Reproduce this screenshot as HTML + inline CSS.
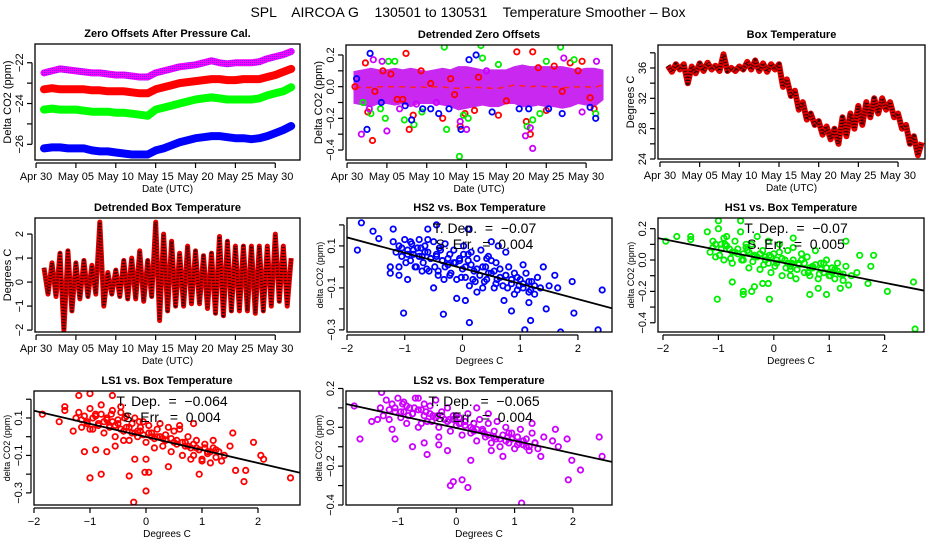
<!DOCTYPE html>
<html><head><meta charset="utf-8">
<style>
html,body{margin:0;padding:0;background:#fff;}
svg{display:block;font-family:"Liberation Sans",sans-serif;}
</style></head>
<body>
<svg id="chart" width="936" height="540" viewBox="0 0 936 540" xmlns="http://www.w3.org/2000/svg">
<defs>
<pattern id="pm" width="2" height="2" patternUnits="userSpaceOnUse"><rect width="2" height="2" fill="#ff00ff"/><rect width="1" height="1" fill="#6a20ff"/></pattern>
</defs>
<text x="468" y="17" text-anchor="middle" font-size="14" style="white-space:pre">SPL    AIRCOA G    130501 to 130531    Temperature Smoother – Box</text>
<g id="root"></g>
</svg>
<script>
// ---------- data ----------
const zoDays = [1,2,3,4,5,6,7,8,9,10,11,12,13,14,15,16,17,18,19,20,21,22,23,24,25,26,27,28,29,30,31,32];
const zoPurple = [-22.5,-22.4,-22.3,-22.35,-22.4,-22.45,-22.5,-22.5,-22.55,-22.6,-22.6,-22.65,-22.7,-22.7,-22.5,-22.4,-22.3,-22.2,-22.15,-22.1,-22.0,-21.9,-22.0,-22.05,-22.0,-22.0,-22.0,-21.95,-21.8,-21.7,-21.6,-21.45];
const zoRed = [-23.3,-23.25,-23.3,-23.3,-23.3,-23.3,-23.35,-23.35,-23.4,-23.4,-23.4,-23.45,-23.5,-23.5,-23.3,-23.2,-23.1,-23.0,-22.95,-22.9,-22.85,-22.8,-22.8,-22.85,-22.85,-22.8,-22.8,-22.8,-22.7,-22.6,-22.45,-22.3];
const zoGreen = [-24.3,-24.25,-24.3,-24.3,-24.3,-24.35,-24.4,-24.4,-24.4,-24.45,-24.45,-24.5,-24.55,-24.6,-24.3,-24.2,-24.1,-24.0,-23.9,-23.8,-23.75,-23.7,-23.75,-23.8,-23.8,-23.8,-23.8,-23.75,-23.6,-23.5,-23.4,-23.2];
const zoBlue = [-26.2,-26.15,-26.15,-26.2,-26.2,-26.2,-26.3,-26.35,-26.35,-26.4,-26.45,-26.5,-26.5,-26.5,-26.3,-26.2,-26.05,-25.9,-25.8,-25.7,-25.65,-25.6,-25.6,-25.65,-25.7,-25.7,-25.75,-25.7,-25.6,-25.45,-25.3,-25.1];

const dzBandHi = [0.09,0.1,0.11,0.1,0.1,0.11,0.1,0.11,0.1,0.09,0.1,0.11,0.1,0.12,0.12,0.11,0.1,0.1,0.1,0.1,0.12,0.13,0.12,0.12,0.12,0.12,0.12,0.11,0.1,0.11,0.11,0.1];
const dzBandLo = [-0.1,-0.11,-0.12,-0.1,-0.1,-0.11,-0.1,-0.12,-0.1,-0.1,-0.1,-0.11,-0.12,-0.14,-0.13,-0.12,-0.11,-0.12,-0.12,-0.1,-0.1,-0.12,-0.12,-0.11,-0.12,-0.12,-0.13,-0.12,-0.1,-0.11,-0.12,-0.08];
const dzRedT = [1,2.6,3.2,6.3,7.4,7.8,8.3,12,13,14.2,14.8,16,19,21.3,22.5,23,23.3,24,25,26,28,29.5,31,2.3,4.5,9.3,3.5,5.5,7,10.5,13.5,16.5,20,27,29,30.5];
const dzRedV = [0.0,-0.16,-0.34,-0.08,0.21,-0.27,-0.18,-0.2,0.05,-0.25,-0.17,-0.15,-0.18,0.22,-0.22,-0.3,0.22,0.12,-0.15,0.13,0.15,0.16,-0.14,0.15,0.1,0.1,-0.03,0.08,-0.08,0.02,-0.05,0.06,-0.09,-0.03,0.1,-0.07];
const dzGreenT = [2,3,4.2,4.8,6,7.2,8.4,9.4,12.2,12.5,14.1,14.6,15.2,16.8,17,19,22.6,23.3,24.2,25,26.8,28.5,31.2,5.2];
const dzGreenV = [-0.1,-0.17,-0.14,-0.2,0.16,-0.21,-0.24,-0.16,0.25,-0.27,-0.44,-0.18,-0.2,0.26,0.18,0.14,-0.25,-0.21,-0.17,0.16,0.25,0.17,-0.17,0.16];
const dzBlueT = [1.2,2.5,2.9,7.3,8.1,9.5,10.5,11.5,12.8,14.3,15.3,16.2,18.2,21.6,22.8,25.3,27,30.5,31.2,4.3];
const dzBlueV = [0.05,-0.27,0.21,-0.12,-0.21,-0.14,-0.14,-0.17,-0.14,-0.27,0.17,0.2,-0.16,-0.14,-0.14,-0.14,-0.17,-0.13,-0.2,-0.1];
const dzPurpleT = [1.8,2.8,3.3,4.4,5,6.6,8.7,11.2,14.2,15,17.5,22.4,23,23.3,27.2,29.5,31.3];
const dzPurpleV = [-0.3,-0.14,0.17,0.16,-0.28,-0.14,-0.11,-0.1,-0.22,-0.27,0.1,-0.31,-0.26,-0.39,0.18,-0.16,0.16];

const btT0 = 1;
const btVals = [36.3,35.5,36.5,35.8,36.5,34.0,36.2,35.3,36.6,35.6,36.7,35.8,36.3,35.6,37.8,35.6,36.0,35.6,36.2,35.8,36.8,35.8,37.0,35.6,36.6,35.5,36.5,35.8,36.5,33.5,34.5,32.3,33.0,30.5,31.5,29.2,30.0,28.5,29.0,27.2,28.3,26.6,28.0,26.0,29.5,27.0,30.0,28.0,31.0,28.5,31.5,29.5,32.0,30.0,32.0,30.5,31.5,29.5,30.0,28.0,28.5,26.0,27.0,24.5,26.2];
const dbVals = [0.6,-0.5,0.8,-0.6,1.2,-2.0,1.3,-1.2,0.8,-0.7,0.9,-0.6,0.7,-0.5,2.5,-1.0,0.4,-0.5,0.5,-0.6,0.9,-0.7,1.0,-0.7,1.3,-0.8,0.9,-0.6,2.5,-1.6,2.0,-1.2,1.7,-1.0,1.2,-1.0,1.5,-0.9,1.3,-0.9,1.1,-1.1,1.2,-1.3,1.9,-1.4,1.7,-1.2,1.5,-1.2,1.5,-1.2,1.5,-1.3,1.5,-1.2,1.5,-1.0,2.0,-0.8,1.5,-1.0,1.0];

const hs2X = [-1.75,-1.55,-1.45,-1.82,-1.25,-1.25,-1.1,-1.02,-0.95,-0.5,-0.33,-0.1,0.05,0.12,1.08,1.7,2.35,2.42,1.93,1.9,1.65,1.5,1.45,1.18,1.15,0.85,0.72,0.62,0.5,0.1,-0.45,-0.6,-1.2,0.75,1.05,1.4,1.6,
 -1.2,-1.15,-1.1,-1.05,-1.0,-0.95,-0.9,-0.88,-0.85,-0.8,-0.78,-0.75,-0.7,-0.68,-0.65,-0.6,-0.58,-0.55,-0.5,-0.48,-0.45,-0.42,-0.4,-0.35,-0.32,-0.3,-0.25,-0.22,-0.2,-0.15,-0.12,-0.1,-0.05,0.0,0.02,0.05,0.1,0.12,0.15,0.2,0.22,0.25,0.3,0.32,0.35,0.4,0.42,0.45,0.5,0.55,0.58,0.6,0.65,0.7,0.75,0.8,0.85,0.9,0.95,1.0,1.05,1.1,1.15,1.2,1.25,1.3,1.35,-0.9,-0.7,-0.3,0.1,0.5,0.9,-1.1,-0.6,0.25,
 -1.05,-0.95,-0.85,-0.75,-0.65,-0.55,-0.45,-0.35,-0.25,-0.15,-0.05,0.05,0.15,0.25,0.35,0.45,0.55,0.65,0.75,0.85,0.95,1.05,1.15,1.25,-0.98,-0.82,-0.62,-0.42,-0.22,-0.02,0.18,0.38,0.58,0.78,0.98,1.18,-0.72,-0.38,0.02,0.42];
const hs2Y = [0.21,0.17,0.135,0.08,0.0,-0.03,-0.04,-0.22,-0.06,-0.1,-0.225,-0.15,-0.16,-0.265,-0.3,-0.31,-0.3,-0.11,-0.22,-0.07,-0.1,-0.09,-0.2,-0.255,-0.17,-0.21,-0.16,0.1,0.12,0.18,0.2,0.18,0.18,0.07,0.01,0.0,-0.04,
 0.12,0.07,0.1,0.05,0.13,0.08,0.03,0.11,0.06,0.0,0.09,0.13,0.05,0.02,0.1,0.07,-0.02,0.04,0.12,0.0,0.06,-0.04,0.09,0.03,-0.06,0.11,0.01,0.06,-0.03,0.08,0.02,-0.06,0.04,-0.01,0.1,-0.05,0.03,-0.09,0.07,-0.02,-0.07,0.04,-0.04,0.08,-0.1,0.0,-0.06,0.05,-0.03,-0.1,0.02,-0.06,-0.01,-0.09,-0.04,0.0,-0.08,-0.03,-0.11,-0.06,-0.1,-0.03,-0.12,-0.07,-0.13,-0.05,-0.1,0.12,-0.02,0.0,0.06,0.03,-0.13,0.0,0.13,-0.12,
 0.09,0.06,0.08,0.05,0.07,0.04,0.05,0.03,0.04,0.02,0.03,0.0,0.01,-0.01,0.0,-0.03,-0.02,-0.05,-0.04,-0.06,-0.05,-0.08,-0.07,-0.09,0.02,0.0,-0.01,-0.02,-0.04,-0.05,-0.06,-0.07,-0.08,-0.1,-0.09,-0.11,0.09,0.08,0.06,0.04];

const hs1X = [-1.95,-1.75,-1.5,-1.5,-1.0,-1.02,-0.6,-0.55,-0.55,-0.4,-0.35,-0.1,-0.08,0.3,0.35,1.3,1.55,1.8,1.75,2.05,2.52,2.55,0.95,0.8,0.65,1.2,1.35,1.7,-0.75,-0.2,
 -1.2,-1.15,-1.1,-1.05,-1.0,-0.95,-0.9,-0.85,-0.8,-0.75,-0.7,-0.65,-0.6,-0.55,-0.5,-0.45,-0.4,-0.35,-0.3,-0.25,-0.2,-0.15,-0.1,-0.05,0.0,0.05,0.1,0.15,0.2,0.25,0.3,0.35,0.4,0.45,0.5,0.55,0.6,0.65,0.7,0.75,0.8,0.85,0.9,0.95,1.0,1.05,1.1,1.15,1.2,1.25,1.3,1.4,1.5,-1.1,-0.9,-0.7,-0.5,-0.3,-0.1,0.1,0.3,0.5,0.7,0.9,1.1,
 -1.05,-0.95,-0.85,-0.75,-0.65,-0.55,-0.45,-0.35,-0.25,-0.15,-0.05,0.05,0.15,0.25,0.35,0.45,0.55,0.65,0.75,0.85,0.95,1.05,1.15,1.25,-0.98,-0.78,-0.58,-0.38,-0.18,0.02,0.22,0.42,0.62,0.82,1.02,-0.88,-0.48,-0.08,0.32];
const hs1Y = [0.12,0.15,0.15,0.13,0.25,-0.25,0.25,-0.2,-0.22,-0.2,-0.17,-0.15,-0.25,-0.1,0.14,0.12,0.03,0.03,-0.04,-0.2,-0.14,-0.44,-0.22,-0.18,-0.22,-0.18,-0.16,-0.15,-0.14,-0.15,
 0.18,0.05,0.12,0.02,0.2,0.1,0.0,0.15,0.07,-0.02,0.12,0.04,0.18,0.0,0.08,-0.05,0.1,0.02,0.15,-0.06,0.06,0.0,0.12,-0.08,0.04,-0.02,0.1,-0.1,0.0,0.06,-0.04,0.08,-0.12,-0.02,0.04,-0.08,0.02,-0.1,-0.04,0.06,-0.12,-0.02,-0.08,0.0,-0.1,-0.05,-0.12,-0.02,-0.09,-0.13,-0.04,-0.1,-0.08,0.08,0.14,0.05,0.1,0.02,-0.02,0.05,-0.06,0.0,-0.05,-0.02,-0.06,
 0.1,0.07,0.09,0.05,0.07,0.04,0.05,0.03,0.04,0.02,0.02,0.0,0.01,-0.02,0.0,-0.03,-0.02,-0.05,-0.03,-0.06,-0.05,-0.08,-0.07,-0.09,0.03,0.01,0.0,-0.01,-0.03,-0.04,-0.05,-0.06,-0.08,-0.09,-0.1,0.1,0.06,0.03,-0.02];

const ls1X = [-1.85,-1.55,-1.45,-1.45,-1.3,-1.2,-1.1,-1.0,-1.0,-0.9,-0.8,-0.6,-0.45,-0.3,-0.22,-0.02,0.0,0.05,0.4,1.92,2.05,2.1,2.58,1.75,1.6,1.78,1.55,0.95,1.0,0.85,0.0,-0.7,-0.55,-0.2,
 -1.25,-1.2,-1.15,-1.1,-1.05,-1.0,-0.95,-0.9,-0.85,-0.8,-0.75,-0.7,-0.65,-0.6,-0.55,-0.5,-0.45,-0.4,-0.35,-0.3,-0.25,-0.2,-0.15,-0.1,-0.05,0.0,0.05,0.1,0.15,0.2,0.25,0.3,0.35,0.4,0.45,0.5,0.55,0.6,0.65,0.7,0.75,0.8,0.85,0.9,0.95,1.0,1.05,1.1,1.15,1.2,1.25,1.3,1.35,1.5,-1.0,-0.8,-0.6,-0.4,-0.2,0.2,0.6,0.8,1.2,1.4,
 -1.15,-1.05,-0.95,-0.85,-0.75,-0.65,-0.55,-0.45,-0.35,-0.25,-0.15,-0.05,0.05,0.15,0.25,0.35,0.45,0.55,0.65,0.75,0.85,0.95,1.05,1.15,1.25,-0.9,-0.7,-0.5,-0.3,-0.1,0.1,0.3,0.5,0.7,0.9,1.1,-0.62,-0.38,-0.12];
const ls1Y = [0.12,0.08,0.16,0.14,0.03,0.22,-0.08,0.23,-0.22,-0.07,-0.2,0.22,0.16,-0.21,-0.35,-0.19,-0.29,-0.19,-0.16,-0.03,-0.1,-0.12,-0.22,-0.24,-0.18,-0.18,0.02,-0.2,-0.13,0.07,-0.12,-0.08,-0.05,-0.12,
 0.1,0.13,0.05,0.11,0.08,0.15,0.04,0.12,0.07,0.17,0.02,0.1,0.06,0.14,0.0,0.09,0.13,0.03,0.11,-0.02,0.07,0.1,0.0,0.05,0.08,-0.03,0.06,0.02,-0.06,0.04,0.07,-0.05,0.01,0.05,-0.08,0.03,-0.02,0.06,-0.1,-0.03,0.0,-0.06,-0.1,-0.02,-0.07,-0.12,-0.04,-0.09,-0.14,-0.06,-0.11,-0.08,-0.13,-0.05,0.04,0.12,0.08,-0.02,0.02,0.0,0.04,-0.12,-0.02,-0.1,
 0.09,0.07,0.1,0.06,0.08,0.05,0.06,0.04,0.05,0.02,0.03,0.01,0.02,-0.01,0.0,-0.02,-0.01,-0.04,-0.03,-0.05,-0.04,-0.07,-0.06,-0.08,-0.07,0.11,0.09,0.07,0.05,0.03,0.0,-0.01,-0.03,-0.05,-0.06,-0.08,0.12,0.1,0.08];

const ls2X = [-1.75,-1.65,-1.45,-1.35,-1.28,-1.1,-1.05,-0.75,-0.65,-0.55,-0.5,-0.3,-0.15,-0.1,-0.05,0.1,0.2,0.25,0.35,0.55,1.12,1.7,1.9,1.92,1.98,2.13,2.45,2.5,1.3,1.45,0.8,
 -1.3,-1.25,-1.2,-1.15,-1.1,-1.05,-1.0,-0.95,-0.9,-0.85,-0.8,-0.75,-0.7,-0.65,-0.6,-0.55,-0.5,-0.45,-0.4,-0.35,-0.3,-0.25,-0.2,-0.15,-0.1,-0.05,0.0,0.05,0.1,0.15,0.2,0.25,0.3,0.35,0.4,0.45,0.5,0.55,0.6,0.65,0.7,0.75,0.8,0.85,0.9,0.95,1.0,1.05,1.1,1.15,1.2,1.25,1.3,1.35,1.4,1.5,1.65,1.75,-0.9,-0.6,-0.3,0.0,0.3,0.6,0.9,1.2,
 -1.15,-1.05,-0.95,-0.85,-0.75,-0.65,-0.55,-0.45,-0.35,-0.25,-0.15,-0.05,0.05,0.15,0.25,0.35,0.45,0.55,0.65,0.75,0.85,0.95,1.05,1.15,1.25,1.35,-0.92,-0.72,-0.52,-0.32,-0.12,0.08,0.28,0.48,0.68,0.88,1.08,-0.82,-0.42];
const ls2Y = [0.11,-0.06,0.03,0.04,0.18,-0.01,-0.06,-0.1,0.15,-0.08,-0.14,-0.09,-0.12,-0.3,-0.28,-0.27,-0.31,-0.17,0.1,0.07,-0.39,-0.01,-0.06,-0.27,-0.17,-0.22,-0.05,-0.15,0.02,-0.15,-0.15,
 0.1,0.06,0.14,0.04,0.12,0.08,0.15,0.05,0.13,0.02,0.1,0.07,0.15,0.0,0.09,0.12,0.03,0.11,0.06,0.14,0.0,0.08,0.04,0.1,-0.02,0.06,0.01,0.05,-0.04,0.03,0.07,-0.03,0.02,-0.07,0.04,-0.01,-0.05,0.02,-0.08,-0.02,0.03,-0.1,-0.04,0.0,-0.08,-0.03,-0.11,-0.05,-0.01,-0.09,-0.06,-0.12,-0.03,-0.08,-0.11,-0.05,-0.07,-0.1,0.08,0.02,-0.05,0.06,-0.02,-0.12,-0.03,-0.1,
 0.09,0.1,0.08,0.11,0.07,0.09,0.06,0.07,0.05,0.06,0.03,0.04,0.02,0.01,0.0,-0.01,-0.02,-0.04,-0.05,-0.06,-0.07,-0.06,-0.09,-0.07,-0.1,-0.08,0.12,0.1,0.08,0.06,0.04,0.02,-0.01,-0.03,-0.06,-0.05,-0.08,0.06,0.03];

const dateTickVals = [0,5,10,15,20,25,30];
const dateTickLabels = ["Apr 30","May 05","May 10","May 15","May 20","May 25","May 30"];

// ---------- helpers ----------
const NS = "http://www.w3.org/2000/svg";
const root = document.getElementById('root');
function el(tag, attrs, parent) {
  const e = document.createElementNS(NS, tag);
  for (const k in attrs) e.setAttribute(k, attrs[k]);
  (parent || root).appendChild(e);
  return e;
}
function txt(s, x, y, size, parent, extra) {
  const t = el('text', Object.assign({x: x, y: y, 'font-size': size, 'text-anchor': 'middle'}, extra || {}), parent);
  t.textContent = s;
  return t;
}
function makePanel(name, box, xd, yd) {
  const g = el('g', {});
  
  
  const sx = v => box.l + (v - xd[0]) / (xd[1] - xd[0]) * (box.r - box.l);
  const sy = v => box.b - (v - yd[0]) / (yd[1] - yd[0]) * (box.b - box.t);
  const clipId = 'clip-' + name;
  const cp = el('clipPath', {id: clipId}, g);
  el('rect', {x: box.l, y: box.t, width: box.r - box.l, height: box.b - box.t}, cp);
  const plot = el('g', {'clip-path': 'url(#' + clipId + ')'}, g);
  
  
  return {g, plot, sx, sy, box};
}
function finishPanel(P, title, xTicks, xLabels, xTitle, yTicks, yLabelVals, yTitle, ySize) {
  const {g, sx, sy, box} = P;
  const frame = el('rect', {x: box.l, y: box.t, width: box.r - box.l, height: box.b - box.t, fill: 'none', stroke: '#000', 'stroke-width': 1.3}, g);
  
  
  const tt = txt(title, (box.l + box.r) / 2, box.t - 7, 11, g, {'font-weight': 'bold'});
  
  
  const xa = el('g', {}, g);
  
  
  const xs = xTicks.map(sx);
  el('line', {x1: Math.min(...xs), x2: Math.max(...xs), y1: box.b + 3, y2: box.b + 3, stroke: '#000', 'stroke-width': 1.2}, xa);
  xTicks.forEach((v, i) => {
    el('line', {x1: sx(v), x2: sx(v), y1: box.b + 3, y2: box.b + 8, stroke: '#000', 'stroke-width': 1.2}, xa);
    const l = txt(xLabels[i], sx(v), box.b + 20, 11, xa);
    
    
  });
  const xt = txt(xTitle, (box.l + box.r) / 2, box.b + 32, 10, xa);
  
  
  const ya = el('g', {}, g);
  
  
  const ys = yTicks.map(sy);
  el('line', {x1: box.l - 3, x2: box.l - 3, y1: Math.min(...ys), y2: Math.max(...ys), stroke: '#000', 'stroke-width': 1.2}, ya);
  yTicks.forEach(v => {
    el('line', {x1: box.l - 8, x2: box.l - 3, y1: sy(v), y2: sy(v), stroke: '#000', 'stroke-width': 1.2}, ya);
  });
  yLabelVals.forEach(v => {
    const s = typeof v === 'number' ? v : v[1];
    const val = typeof v === 'number' ? v : v[0];
    const x = box.l - 12, y = sy(val);
    const l = txt(String(s).replace('-', '\u2212'), x, y, 11, ya, {transform: 'rotate(-90 ' + x + ' ' + y + ')'});
    
    
  });
  const yx = box.l - 24, yy = (box.t + box.b) / 2;
  const ytl = txt(yTitle, yx, yy, ySize || 10, ya, {transform: 'rotate(-90 ' + yx + ' ' + yy + ')'});
  
  
}
function poly(P, xs, ys, attrs, name) {
  const pts = xs.map((x, i) => P.sx(x).toFixed(1) + ',' + P.sy(ys[i]).toFixed(1)).join(' ');
  const p = el('polyline', Object.assign({points: pts, fill: 'none'}, attrs), P.plot);
  
  
  return p;
}
function dots(P, xs, ys, color, name) {
  const g = el('g', {}, P.plot);
  
  
  xs.forEach((x, i) => {
    const c = el('circle', {cx: P.sx(x).toFixed(1), cy: P.sy(ys[i]).toFixed(1), r: 2.7, fill: 'none', stroke: color, 'stroke-width': 1.8}, g);
    
    
  });
}
function fitLine(P, xs, ys, xd, name) {
  const n = xs.length;
  const mx = xs.reduce((a, b) => a + b, 0) / n, my = ys.reduce((a, b) => a + b, 0) / n;
  let sxy = 0, sxx = 0;
  xs.forEach((x, i) => { sxy += (x - mx) * (ys[i] - my); sxx += (x - mx) * (x - mx); });
  const slope = sxy / sxx, ic = my - slope * mx;
  poly(P, [xd[0], xd[1]], [ic + slope * xd[0], ic + slope * xd[1]], {stroke: '#000', 'stroke-width': 1.8}, name);
}
function annot(P, l1, l2, name) {
  const cx = (P.box.l + P.box.r) / 2 + 5;
  const a = txt(l1, cx, P.box.t + 15, 14, P.g, {style: 'white-space:pre'});
  
  
  const b = txt(l2, cx, P.box.t + 31, 14, P.g, {style: 'white-space:pre'});
  
  
}
const halfT = arr => arr.map((_, i) => btT0 + i * 0.5);

// ---------- Panel 1 ----------
{
  const P = makePanel('zero-offsets-panel', {l: 35, r: 300, t: 44, b: 160}, [-0.13, 33.1], [-26.77, -21.08]);
  poly(P, zoDays, zoPurple, {stroke: 'url(#pm)', 'stroke-width': 7, 'stroke-linejoin': 'round', 'stroke-linecap': 'round'}, 'series-purple');
  poly(P, zoDays, zoRed, {stroke: '#ff0000', 'stroke-width': 8, 'stroke-linejoin': 'round', 'stroke-linecap': 'round'}, 'series-red');
  poly(P, zoDays, zoGreen, {stroke: '#00ff00', 'stroke-width': 8, 'stroke-linejoin': 'round', 'stroke-linecap': 'round'}, 'series-green');
  poly(P, zoDays, zoBlue, {stroke: '#0000ff', 'stroke-width': 8, 'stroke-linejoin': 'round', 'stroke-linecap': 'round'}, 'series-blue');
  finishPanel(P, 'Zero Offsets After Pressure Cal.', dateTickVals, dateTickLabels, 'Date (UTC)', [-22, -23, -24, -25, -26], [-22, -24, -26], 'Delta CO2 (ppm)', 11);
}
// ---------- Panel 2 ----------
{
  const P = makePanel('detrended-zero-offsets-panel', {l: 346, r: 612, t: 45, b: 160}, [-0.13, 33.25], [-0.463, 0.263]);
  const pts = zoDays.map((d, i) => P.sx(d) + ',' + P.sy(dzBandHi[i])).concat(zoDays.slice().reverse().map((d, j) => P.sx(d) + ',' + P.sy(dzBandLo[zoDays.length - 1 - j])));
  const band = el('polygon', {points: pts.join(' '), fill: '#c828f0', stroke: '#c828f0', 'stroke-width': 3}, P.plot);
  
  
  poly(P, zoDays, dzBandHi.map((v, i) => (v + dzBandLo[i]) / 2), {stroke: '#ff2020', 'stroke-width': 1.5, 'stroke-dasharray': '6 5'}, 'red-center');
  dots(P, dzRedT, dzRedV, '#ff0000', 'outliers-red');
  dots(P, dzGreenT, dzGreenV, '#00ee00', 'outliers-green');
  dots(P, dzBlueT, dzBlueV, '#0000ff', 'outliers-blue');
  dots(P, dzPurpleT, dzPurpleV, '#cc00ff', 'outliers-purple');
  finishPanel(P, 'Detrended Zero Offsets', dateTickVals, dateTickLabels, 'Date (UTC)', [0.2, 0.1, 0, -0.1, -0.2, -0.3, -0.4], [[0.2, '0.2'], [0, '0.0'], [-0.2, '-0.2'], [-0.4, '-0.4']], 'Delta CO2 (ppm)', 11);
}
// ---------- Panel 3 ----------
{
  const P = makePanel('box-temperature-panel', {l: 658, r: 925, t: 45, b: 159}, [-0.25, 33.4], [24.0, 39.03]);
  poly(P, halfT(btVals), btVals, {stroke: '#e00000', 'stroke-width': 6, 'stroke-linejoin': 'round'}, 'box-temp-line');
  poly(P, halfT(btVals), btVals, {stroke: '#300', 'stroke-width': 4, 'stroke-dasharray': '1 2', 'stroke-linejoin': 'round'}, 'box-temp-texture');
  finishPanel(P, 'Box Temperature', dateTickVals, dateTickLabels, 'Date (UTC)', [24, 26, 28, 30, 32, 34, 36, 38], [24, 28, 32, 36], 'Degrees C', 11);
}
// ---------- Panel 4 ----------
{
  const P = makePanel('detrended-box-temperature-panel', {l: 35, r: 300, t: 218, b: 332}, [-0.13, 33.1], [-2.08, 2.67]);
  poly(P, halfT(dbVals), dbVals, {stroke: '#e00000', 'stroke-width': 5, 'stroke-linejoin': 'round'}, 'detrended-temp-line');
  poly(P, halfT(dbVals), dbVals, {stroke: '#300', 'stroke-width': 3, 'stroke-dasharray': '1 2', 'stroke-linejoin': 'round'}, 'detrended-temp-texture');
  finishPanel(P, 'Detrended Box Temperature', dateTickVals, dateTickLabels, 'Date (UTC)', [-2, -1, 0, 1, 2], [-2, -1, 0, 1, 2], 'Degrees C', 11);
}
// ---------- Scatter panels ----------
{
  const xd = [-2.0, 2.59];
  const P = makePanel('hs2-scatter-panel', {l: 347, r: 612, t: 218, b: 332}, xd, [-0.31, 0.233]);
  dots(P, hs2X, hs2Y, '#0000ff', 'hs2-points');
  fitLine(P, hs2X, hs2Y, xd, 'hs2-fit-line');
  annot(P, 'T. Dep.  =  \u22120.07', 'S. Err.  =  0.004', 'hs2');
  finishPanel(P, 'HS2 vs. Box Temperature', [-2, -1, 0, 1, 2], ['\u22122', '\u22121', '0', '1', '2'], 'Degrees C', [0.2, 0.1, 0, -0.1, -0.2, -0.3], [0.1, -0.1, -0.3], 'delta CO2 (ppm)', 9);
}
{
  const xd = [-2.09, 2.71];
  const P = makePanel('hs1-scatter-panel', {l: 658, r: 924, t: 218, b: 332}, xd, [-0.459, 0.268]);
  dots(P, hs1X, hs1Y, '#00ee00', 'hs1-points');
  fitLine(P, hs1X, hs1Y, xd, 'hs1-fit-line');
  annot(P, 'T. Dep.  =  \u22120.07', 'S. Err.  =  0.005', 'hs1');
  finishPanel(P, 'HS1 vs. Box Temperature', [-2, -1, 0, 1, 2], ['\u22122', '\u22121', '0', '1', '2'], 'Degrees C', [0.2, 0.1, 0, -0.1, -0.2, -0.3, -0.4], [[0.2, '0.2'], [0, '0.0'], [-0.2, '-0.2'], [-0.4, '-0.4']], 'delta CO2 (ppm)', 9);
}
{
  const xd = [-2.0, 2.75];
  const P = makePanel('ls1-scatter-panel', {l: 34, r: 300, t: 391, b: 505}, xd, [-0.3647, 0.244]);
  dots(P, ls1X, ls1Y, '#ff0000', 'ls1-points');
  fitLine(P, ls1X, ls1Y, xd, 'ls1-fit-line');
  annot(P, 'T. Dep.  =  \u22120.064', 'S. Err.  =  0.004', 'ls1');
  finishPanel(P, 'LS1 vs. Box Temperature', [-2, -1, 0, 1, 2], ['\u22122', '\u22121', '0', '1', '2'], 'Degrees C', [0.2, 0.1, 0, -0.1, -0.2, -0.3], [0.1, -0.1, -0.3], 'delta CO2 (ppm)', 9);
}
{
  const xd = [-1.89, 2.67];
  const P = makePanel('ls2-scatter-panel', {l: 346, r: 612, t: 391, b: 505}, xd, [-0.40, 0.187]);
  dots(P, ls2X, ls2Y, '#cc00ff', 'ls2-points');
  fitLine(P, ls2X, ls2Y, xd, 'ls2-fit-line');
  annot(P, 'T. Dep.  =  \u22120.065', 'S. Err.  =  0.004', 'ls2');
  finishPanel(P, 'LS2 vs. Box Temperature', [-1, 0, 1, 2], ['\u22121', '0', '1', '2'], 'Degrees C', [0.2, 0.1, 0, -0.1, -0.2, -0.3, -0.4], [[0.2, '0.2'], [0, '0.0'], [-0.2, '-0.2'], [-0.4, '-0.4']], 'delta CO2 (ppm)', 9);
}
</script>
</body></html>
